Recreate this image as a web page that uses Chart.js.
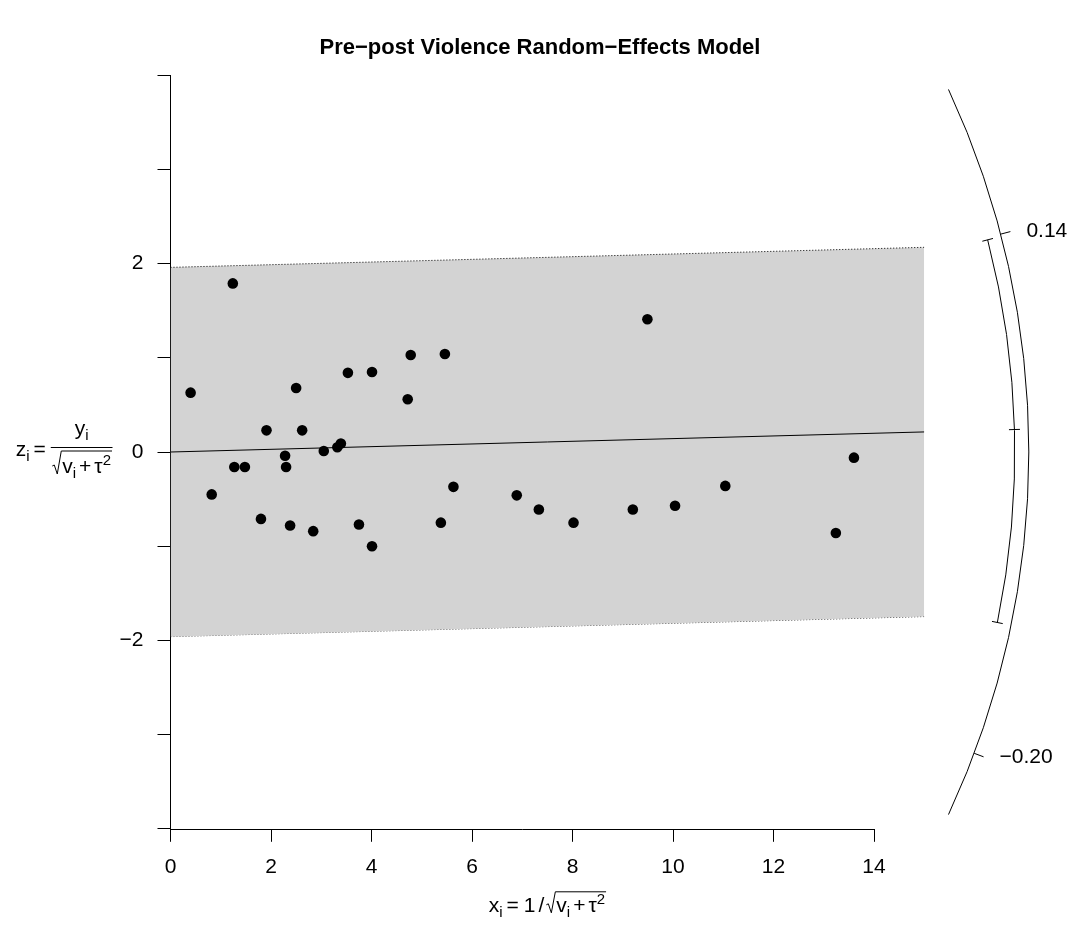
<!DOCTYPE html>
<html>
<head>
<meta charset="utf-8">
<script src="https://cdn.jsdelivr.net/npm/chart.js@4.4.1/dist/chart.umd.min.js"></script>
<style>
  html, body { margin: 0; padding: 0; background: #fff; }
</style>
</head>
<body>
<canvas id="chart" width="1080" height="934"></canvas>
<script>
// study values
const xi = [0.40, 0.82, 1.24, 1.27, 1.48, 1.80, 1.91, 2.28, 2.30, 2.38, 2.50, 2.62,
            2.84, 3.05, 3.32, 3.39, 3.53, 3.75, 4.01, 4.01, 4.72, 4.78, 5.38, 5.46,
            5.63, 6.89, 7.33, 8.02, 9.20, 9.49, 10.04, 11.04, 13.24, 13.60];
const zi = [0.63, -0.45, 1.79, -0.16, -0.16, -0.71, 0.23, -0.04, -0.16, -0.78, 0.68, 0.23,
            -0.84, 0.01, 0.05, 0.09, 0.84, -0.77, 0.85, -1.00, 0.56, 1.03, -0.75, 1.04,
            -0.37, -0.46, -0.61, -0.75, -0.61, 1.41, -0.57, -0.36, -0.86, -0.06];

const estimate = 0.0142;
const ciLower = -0.110;
const ciUpper = 0.1385;
const bandZ = 1.96;
const xMax = 15;

const xTicks = [0, 2, 4, 6, 8, 10, 12, 14];
const yTicks = [-4, -3, -2, -1, 0, 1, 2, 3, 4];
const yLabelled = [-2, 0, 2];
const arcLimits = [-0.2486, 0.2486];
const arcTicks = [0.14, -0.20];
const arcTickLabels = ["0.14", "\u22120.20"];
const titleText = "Pre\u2212post Violence Random\u2212Effects Model";

const FAM = "'Liberation Sans', Arial, Helvetica, sans-serif";
const BASE = 21, SMALL = 15;
const ARC_R = 17.08, CI_R = 16.80, RAD_W = 10;

Chart.defaults.font.family = FAM;
Chart.defaults.color = "#000";

const points = xi.map((x, i) => ({ x: x, y: zi[i] }));
const estLine = [{ x: 0, y: 0 }, { x: xMax, y: estimate * xMax }];
const bandUp = [{ x: 0, y: bandZ }, { x: xMax, y: bandZ + estimate * xMax }];
const bandLo = [{ x: 0, y: -bandZ }, { x: xMax, y: -bandZ + estimate * xMax }];

function fnt(ctx, s) { ctx.font = s + "px " + FAM; }
function tokWidth(ctx, t, k) {
  if (k === "g") return t;
  fnt(ctx, k === "n" ? BASE : SMALL);
  return ctx.measureText(t).width;
}
function runWidth(ctx, toks) {
  let w = 0;
  for (const [t, k] of toks) w += tokWidth(ctx, t, k);
  return w;
}
function drawRun(ctx, toks, x, base) {
  for (const [t, k] of toks) {
    if (k !== "g") {
      fnt(ctx, k === "n" ? BASE : SMALL);
      const dy = k === "b" ? 5 : (k === "p" ? -8 : 0);
      ctx.fillText(t, x, base + dy);
    }
    x += tokWidth(ctx, t, k);
  }
  return x;
}
function drawRadical(ctx, x, base, inner, top) {
  ctx.beginPath();
  ctx.moveTo(x, base - 7);
  ctx.lineTo(x + 2, base - 8);
  ctx.lineTo(x + 5, base + 1);
  ctx.lineTo(x + 9, top);
  ctx.lineTo(x + RAD_W + inner + 1, top);
  ctx.stroke();
}

const radialPlugin = {
  id: "radial",
  afterDraw(chart) {
    const ctx = chart.ctx, ca = chart.chartArea;
    const xs = chart.scales.x, ys = chart.scales.y;
    ctx.save();
    ctx.strokeStyle = "#000";
    ctx.fillStyle = "#000";
    ctx.lineWidth = 1;

    // title, centred on the page
    ctx.font = "bold 22px " + FAM;
    ctx.textAlign = "center";
    ctx.textBaseline = "middle";
    ctx.fillText(titleText, chart.width / 2, 48);

    ctx.textAlign = "left";
    ctx.textBaseline = "alphabetic";

    // x axis line, only across the ticks
    const yb = Math.round(ca.bottom) + 0.5;
    ctx.beginPath();
    ctx.moveTo(xs.getPixelForValue(xTicks[0]), yb);
    ctx.lineTo(xs.getPixelForValue(xTicks[xTicks.length - 1]), yb);
    ctx.stroke();

    // y axis title: z_i = y_i / sqrt(v_i + tau^2)
    const cy = ys.getPixelForValue(0);
    const num = [["y", "n"], ["i", "b"]];
    const den = [["v", "n"], ["i", "b"], [3, "g"], ["+", "n"], [3, "g"], ["\u03C4", "n"], ["2", "p"]];
    const wN = runWidth(ctx, num), wDi = runWidth(ctx, den), wD = RAD_W + wDi;
    const fw = Math.max(wN, wD) + 3;
    const right = ca.left - 58, left = right - fw;
    ctx.beginPath();
    ctx.moveTo(left, cy - 4.5);
    ctx.lineTo(right, cy - 4.5);
    ctx.stroke();
    drawRun(ctx, num, left + (fw - wN) / 2, cy - 17);
    const dx = left + (fw - wD) / 2;
    drawRadical(ctx, dx, cy + 21, wDi, cy - 1);
    drawRun(ctx, den, dx + RAD_W, cy + 21);
    const lhs = [["z", "n"], ["i", "b"], [4, "g"], ["=", "n"], [5, "g"]];
    drawRun(ctx, lhs, left - runWidth(ctx, lhs), cy + 3.5);

    // x axis title: x_i = 1 / sqrt(v_i + tau^2)
    const xl = [["x", "n"], ["i", "b"], [4, "g"], ["=", "n"], [5, "g"], ["1", "n"], [3, "g"], ["/", "n"], [2, "g"]];
    const wA = runWidth(ctx, xl);
    const total = wA + RAD_W + wDi + 1;
    const base = ca.bottom + 83;
    let x0 = (ca.left + ca.right) / 2 - total / 2;
    x0 = drawRun(ctx, xl, x0, base);
    drawRadical(ctx, x0, base, wDi, base - 20);
    drawRun(ctx, den, x0 + RAD_W, base);

    // arcs on the right
    const cx0 = xs.getPixelForValue(0), cy0 = ys.getPixelForValue(0);
    const kx = xs.getPixelForValue(1) - cx0, ky = cy0 - ys.getPixelForValue(1);
    const ang = b => Math.atan(b * ky / kx);
    const pt = (b, r) => [cx0 + r * Math.cos(ang(b)), cy0 - r * Math.sin(ang(b))];
    const rO = ARC_R * kx, rI = CI_R * kx;

    ctx.beginPath();
    ctx.arc(cx0, cy0, rO, -ang(arcLimits[1]), -ang(arcLimits[0]));
    ctx.stroke();
    fnt(ctx, BASE);
    ctx.textBaseline = "middle";
    arcTicks.forEach((b, i) => {
      const [x1, y1] = pt(b, rO), [x2, y2] = pt(b, rO + 10);
      ctx.beginPath();
      ctx.moveTo(x1, y1);
      ctx.lineTo(x2, y2);
      ctx.stroke();
      ctx.fillText(arcTickLabels[i], x2 + 16, y2);
    });

    ctx.beginPath();
    ctx.arc(cx0, cy0, rI, -ang(ciUpper), -ang(ciLower));
    ctx.stroke();
    [ciLower, estimate, ciUpper].forEach(b => {
      const [x1, y1] = pt(b, rI - 5.5), [x2, y2] = pt(b, rI + 5.5);
      ctx.beginPath();
      ctx.moveTo(x1, y1);
      ctx.lineTo(x2, y2);
      ctx.stroke();
    });
    ctx.restore();
  }
};

new Chart(document.getElementById("chart"), {
  type: "scatter",
  data: {
    datasets: [
      { label: "studies", data: points, pointRadius: 5.3, pointHoverRadius: 5.3,
        backgroundColor: "#000", borderWidth: 0, showLine: false },
      { label: "estimate", data: estLine, showLine: true, borderColor: "#000",
        borderWidth: 1, pointRadius: 0, fill: false },
      { label: "upper", data: bandUp, showLine: true, borderColor: "#000",
        borderWidth: 1, borderDash: [1, 2], pointRadius: 0,
        fill: "+1", backgroundColor: "#d3d3d3" },
      { label: "lower", data: bandLo, showLine: true, borderColor: "#000",
        borderWidth: 1, borderDash: [1, 2], pointRadius: 0, fill: false }
    ]
  },
  options: {
    responsive: false,
    animation: false,
    devicePixelRatio: 1,
    layout: { padding: { left: 0, right: 155.7, top: 75.2, bottom: 0 } },
    plugins: {
      legend: { display: false },
      tooltip: { enabled: false },
      title: { display: false }
    },
    scales: {
      x: {
        type: "linear", min: 0, max: xMax, z: 1,
        afterBuildTicks: s => { s.ticks = xTicks.map(v => ({ value: v })); },
        afterFit: s => { s.height = 105.2; },
        grid: { drawOnChartArea: false, drawTicks: true, tickLength: 13, color: "#000", tickColor: "#000", tickWidth: 1 },
        border: { display: false },
        ticks: { padding: 13, font: { size: BASE }, color: "#000", maxRotation: 0, autoSkip: false }
      },
      y: {
        type: "linear", min: -4, max: 4, z: 1,
        afterBuildTicks: s => { s.ticks = yTicks.map(v => ({ value: v })); },
        afterFit: s => { s.width = 170.5; },
        grid: { drawOnChartArea: false, drawTicks: true, tickLength: 13, color: "#000", tickColor: "#000", tickWidth: 1 },
        border: { display: true, color: "#000", width: 1 },
        ticks: {
          padding: 14, font: { size: BASE }, color: "#000", autoSkip: false,
          callback: v => yLabelled.includes(v) ? String(v).replace("-", "\u2212") : ""
        }
      }
    }
  },
  plugins: [radialPlugin]
});
</script>
</body>
</html>
